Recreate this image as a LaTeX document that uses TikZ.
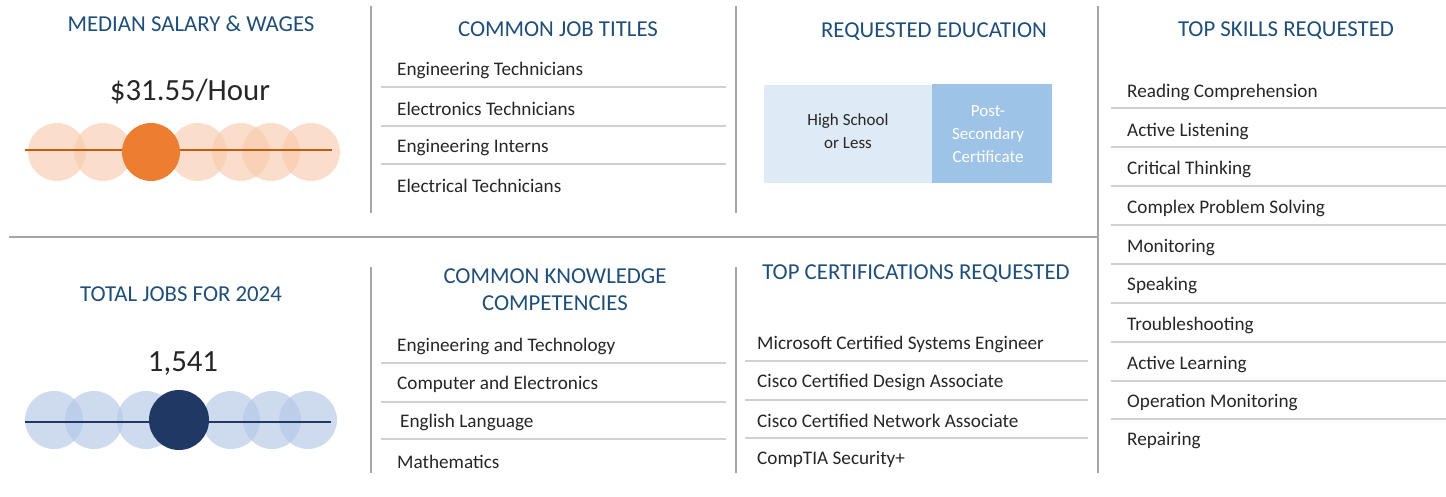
\documentclass[tikz,border=0pt]{standalone}
\usepackage{fontspec}
\setmainfont{Carlito}
\usetikzlibrary{positioning}
\definecolor{headblue}{HTML}{1F4E79}
\definecolor{rulegray}{HTML}{A6A6A6}
\definecolor{itemgray}{HTML}{D0D0D0}
\definecolor{salorange}{HTML}{ED7D31}
\definecolor{salline}{HTML}{C55A11}
\definecolor{salpeach}{HTML}{F8CBAD}
\definecolor{jobnavy}{HTML}{203864}
\definecolor{jobpale}{HTML}{B4C7E7}
\definecolor{edulight}{HTML}{DEEBF7}
\definecolor{edudark}{HTML}{9DC3E6}
\tikzset{
  heading/.style={text=headblue, font=\fontsize{22.8}{27}\selectfont, align=center, yshift=-1pt},
  item/.style={anchor=west, inner xsep=0pt, yshift=-1.5pt, text=black!85, font=\fontsize{19.2}{22}\selectfont},
  bignum/.style={text=black!85, yshift=-1.5pt, font=\fontsize{30.8}{34}\selectfont},
  sep/.style={rulegray, line width=1.6pt},
  itemrule/.style={itemgray, line width=1.3pt},
  ghost/.style={fill=#1, fill opacity=0.65},
  edutext/.style={align=center, font=\fontsize{17}{23}\selectfont}
}
\begin{document}
\begin{tikzpicture}[x=1pt, y=-1pt]
    \useasboundingbox (0,0) rectangle (1446,497);
    % Separators
    \draw[sep] (9,237) -- (1098,237);
    \draw[sep] (371,6) -- (371,213);
    \draw[sep] (736,6) -- (736,213);
    \draw[sep] (371,267) -- (371,473);
    \draw[sep] (736,267) -- (736,473);
    \draw[sep] (1098,6) -- (1098,473);
    % Item rules
    \foreach \y in {87,126,164} \draw[itemrule] (381,\y) -- (726,\y);
    \foreach \y in {363,402,439} \draw[itemrule] (381,\y) -- (726,\y);
    \foreach \y in {361,400,438} \draw[itemrule] (745,\y) -- (1088,\y);
    \foreach \y in {108,147,186,225,264,303,342,381,419} \draw[itemrule] (1111,\y) -- (1446,\y);
    % Salary
    \node[heading] (salhead) at (191,23) {MEDIAN SALARY \& WAGES};
    \node[bignum] (salval) at (190,90) {\$31.55/Hour};
    \foreach \x in {57,103,198,241,271,311} \fill[ghost=salpeach] (\x,152) circle (29);
    \draw[salline, line width=1.6pt] (25,150) -- (332,150);
    \fill[salorange] (151,152) circle (29);
    % Total jobs
    \node[heading] (jobhead) at (181,293) {TOTAL JOBS FOR 2024};
    \node[bignum] (jobval) at (183,362) {1,541};
    \foreach \x in {54,94,146,231,272,308} \fill[ghost=jobpale] (\x,420) circle (29);
    \draw[jobnavy, line width=1.6pt] (25,422) -- (331,422);
    \fill[jobnavy] (179,420) circle (30);
    % Job titles
    \node[heading] (titlehead) at (558,28) {COMMON JOB TITLES};
    \node[item] (t1) at (397,69) {Engineering Technicians};
    \node[item] (t2) at (397,107) {Electronics Technicians};
    \node[item] (t3) at (397,146) {Engineering Interns};
    \node[item] (t4) at (397,184) {Electrical Technicians};
    % Education
    \node[heading] (eduhead) at (934,31) {REQUESTED EDUCATION};
    \fill[edulight] (764,85) rectangle (932,183);
    \fill[edudark] (932,84) rectangle (1052,183);
    \node[edutext, text=black!85] (hs) at (848,131) {High School\\or Less};
    \node[edutext, text=white] (psc) at (988,134) {Post-\\Secondary\\Certificate};
    % Skills
    \node[heading] (skillhead) at (1286,30) {TOP SKILLS REQUESTED};
    \node[item] (s1) at (1127,91) {Reading Comprehension};
    \node[item] (s2) at (1127,130) {Active Listening};
    \node[item] (s3) at (1127,168) {Critical Thinking};
    \node[item] (s4) at (1127,207) {Complex Problem Solving};
    \node[item] (s5) at (1127,246) {Monitoring};
    \node[item] (s6) at (1127,284) {Speaking};
    \node[item] (s7) at (1127,324) {Troubleshooting};
    \node[item] (s8) at (1127,363) {Active Learning};
    \node[item] (s9) at (1127,401) {Operation Monitoring};
    \node[item] (s10) at (1127,439) {Repairing};
    % Knowledge
    \node[heading] (knowhead) at (555,289) {COMMON KNOWLEDGE\\COMPETENCIES};
    \node[item] (k1) at (397,345) {Engineering and Technology};
    \node[item] (k2) at (397,383) {Computer and Electronics};
    \node[item] (k3) at (400,421) {English Language};
    \node[item] (k4) at (397,460) {Mathematics};
    % Certifications
    \node[heading] (certhead) at (916,273) {TOP CERTIFICATIONS REQUESTED};
    \node[item] (c1) at (757,343) {Microsoft Certified Systems Engineer};
    \node[item] (c2) at (757,381) {Cisco Certified Design Associate};
    \node[item] (c3) at (757,419) {Cisco Certified Network Associate};
    \node[item] (c4) at (757,458) {CompTIA Security+};
\end{tikzpicture}
\end{document}
